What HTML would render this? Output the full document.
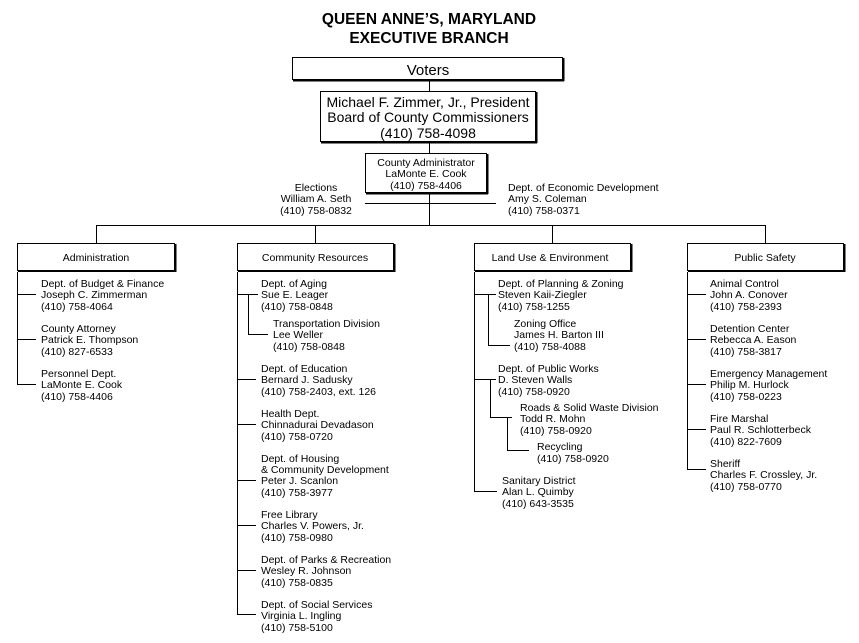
<!DOCTYPE html>
<html><head><style>
body{margin:0;background:#fff}
svg{display:block}
text{font-family:"Liberation Sans",Arial,sans-serif;fill:#000;font-size:10.5px}
text.big{font-size:14px}
</style></head><body>
<svg width="859" height="643" viewBox="0 0 859 643" xmlns="http://www.w3.org/2000/svg">
<g stroke="#000" fill="none" stroke-width="1">
<rect x="292.5" y="57.5" width="270" height="22" fill="#fff"/>
<line x1="563.5" y1="58" x2="563.5" y2="81" stroke-width="2"/><line x1="293" y1="80.5" x2="564" y2="80.5" stroke-width="2"/>
<rect x="320.5" y="91.5" width="215" height="50" fill="#fff"/>
<line x1="536.5" y1="92" x2="536.5" y2="143" stroke-width="2"/><line x1="321" y1="142.5" x2="537" y2="142.5" stroke-width="2"/>
<rect x="365.5" y="153.5" width="121" height="39" fill="#fff"/>
<line x1="487.5" y1="154" x2="487.5" y2="194" stroke-width="2"/><line x1="366" y1="193.5" x2="488" y2="193.5" stroke-width="2"/>
<line x1="429.5" y1="81" x2="429.5" y2="91"/>
<line x1="429.5" y1="143" x2="429.5" y2="153"/>
<line x1="429.5" y1="194" x2="429.5" y2="225"/>
<line x1="365" y1="203.5" x2="496" y2="203.5"/>
<line x1="96.5" y1="225.5" x2="765.5" y2="225.5"/>
<line x1="96.5" y1="225" x2="96.5" y2="243"/>
<line x1="315.5" y1="225" x2="315.5" y2="243"/>
<line x1="552.5" y1="225" x2="552.5" y2="243"/>
<line x1="765.5" y1="225" x2="765.5" y2="243"/>
<rect x="17.5" y="243.5" width="157" height="27" fill="#fff"/>
<line x1="175.5" y1="244" x2="175.5" y2="272" stroke-width="2"/><line x1="18" y1="271" x2="176" y2="271" stroke-width="2"/>
<rect x="237.5" y="243.5" width="156" height="27" fill="#fff"/>
<line x1="394.5" y1="244" x2="394.5" y2="272" stroke-width="2"/><line x1="238" y1="271" x2="395" y2="271" stroke-width="2"/>
<rect x="474.5" y="243.5" width="156" height="27" fill="#fff"/>
<line x1="631.5" y1="244" x2="631.5" y2="272" stroke-width="2"/><line x1="475" y1="271" x2="632" y2="271" stroke-width="2"/>
<rect x="687.5" y="243.5" width="156" height="27" fill="#fff"/>
<line x1="844.5" y1="244" x2="844.5" y2="272" stroke-width="2"/><line x1="688" y1="271" x2="845" y2="271" stroke-width="2"/>
<line x1="17.5" y1="272" x2="17.5" y2="384.5"/>
<line x1="17" y1="294.5" x2="36" y2="294.5"/>
<line x1="17" y1="339.5" x2="36" y2="339.5"/>
<line x1="17" y1="384.5" x2="36" y2="384.5"/>
<line x1="237.5" y1="272" x2="237.5" y2="614.5"/>
<line x1="237" y1="294.5" x2="258" y2="294.5"/>
<line x1="248.5" y1="294" x2="248.5" y2="334.5"/>
<line x1="248" y1="334.5" x2="268" y2="334.5"/>
<line x1="237" y1="379.5" x2="256" y2="379.5"/>
<line x1="237" y1="424.5" x2="256" y2="424.5"/>
<line x1="237" y1="480.5" x2="256" y2="480.5"/>
<line x1="237" y1="525.5" x2="256" y2="525.5"/>
<line x1="237" y1="570.5" x2="256" y2="570.5"/>
<line x1="237" y1="614.5" x2="256" y2="614.5"/>
<line x1="474.5" y1="272" x2="474.5" y2="491.5"/>
<line x1="474" y1="294.5" x2="496" y2="294.5"/>
<line x1="488.5" y1="294" x2="488.5" y2="345.5"/>
<line x1="488" y1="345.5" x2="510" y2="345.5"/>
<line x1="474" y1="379.5" x2="496" y2="379.5"/>
<line x1="490.5" y1="379" x2="490.5" y2="417.5"/>
<line x1="490" y1="417.5" x2="512" y2="417.5"/>
<line x1="507.5" y1="417" x2="507.5" y2="450.5"/>
<line x1="507" y1="450.5" x2="529" y2="450.5"/>
<line x1="474" y1="491.5" x2="497" y2="491.5"/>
<line x1="687.5" y1="272" x2="687.5" y2="469.5"/>
<line x1="687" y1="294.5" x2="706" y2="294.5"/>
<line x1="687" y1="339.5" x2="706" y2="339.5"/>
<line x1="687" y1="384.5" x2="706" y2="384.5"/>
<line x1="687" y1="429.5" x2="706" y2="429.5"/>
<line x1="687" y1="469.5" x2="706" y2="469.5"/>
</g>
<g>
<text x="429" y="24" text-anchor="middle" font-weight="bold" style="font-size:15.5px">QUEEN ANNE’S, MARYLAND</text>
<text x="429" y="43" text-anchor="middle" font-weight="bold" style="font-size:15.5px">EXECUTIVE BRANCH</text>
<text x="428" y="75" text-anchor="middle" style="font-size:15px">Voters</text>
<text class="big" x="428" y="107" text-anchor="middle">Michael F. Zimmer, Jr., President</text>
<text class="big" x="428" y="122" text-anchor="middle">Board of County Commissioners</text>
<text class="big" x="428" y="138" text-anchor="middle">(410) 758-4098</text>
<g text-anchor="middle">
<text x="426" y="166">County Administrator</text>
<text x="426" y="177">LaMonte E. Cook</text>
<text x="426" y="189">(410) 758-4406</text>
<text x="316" y="191">Elections</text>
<text x="316" y="202">William A. Seth</text>
<text x="316" y="214">(410) 758-0832</text>
<text x="96" y="261">Administration</text>
<text x="315" y="261">Community Resources</text>
<text x="550" y="261">Land Use &amp; Environment</text>
<text x="765" y="261">Public Safety</text>
</g>
<text x="508" y="191">Dept. of Economic Development</text>
<text x="508" y="202">Amy S. Coleman</text>
<text x="508" y="214">(410) 758-0371</text>
<g transform="translate(41,0)">
<text y="287">Dept. of Budget &amp; Finance</text><text y="298">Joseph C. Zimmerman</text><text y="310">(410) 758-4064</text>
<text y="332">County Attorney</text><text y="343">Patrick E. Thompson</text><text y="355">(410) 827-6533</text>
<text y="377">Personnel Dept.</text><text y="388">LaMonte E. Cook</text><text y="400">(410) 758-4406</text>
</g>
<g transform="translate(261,0)">
<text y="287">Dept. of Aging</text><text y="298">Sue E. Leager</text><text y="310">(410) 758-0848</text>
<text x="12" y="327">Transportation Division</text><text x="12" y="338">Lee Weller</text><text x="12" y="350">(410) 758-0848</text>
<text y="372">Dept. of Education</text><text y="383">Bernard J. Sadusky</text><text y="395">(410) 758-2403, ext. 126</text>
<text y="417">Health Dept.</text><text y="428">Chinnadurai Devadason</text><text y="440">(410) 758-0720</text>
<text y="462">Dept. of Housing</text><text y="473">&amp; Community Development</text><text y="484">Peter J. Scanlon</text><text y="496">(410) 758-3977</text>
<text y="518">Free Library</text><text y="529">Charles V. Powers, Jr.</text><text y="541">(410) 758-0980</text>
<text y="563">Dept. of Parks &amp; Recreation</text><text y="574">Wesley R. Johnson</text><text y="586">(410) 758-0835</text>
<text y="608">Dept. of Social Services</text><text y="619">Virginia L. Ingling</text><text y="631">(410) 758-5100</text>
</g>
<g>
<text x="498" y="287">Dept. of Planning &amp; Zoning</text><text x="498" y="298">Steven Kaii-Ziegler</text><text x="498" y="310">(410) 758-1255</text>
<text x="514" y="327">Zoning Office</text><text x="514" y="338">James H. Barton III</text><text x="514" y="350">(410) 758-4088</text>
<text x="498" y="372">Dept. of Public Works</text><text x="498" y="383">D. Steven Walls</text><text x="498" y="395">(410) 758-0920</text>
<text x="520" y="411">Roads &amp; Solid Waste Division</text><text x="520" y="422">Todd R. Mohn</text><text x="520" y="434">(410) 758-0920</text>
<text x="537" y="450">Recycling</text><text x="537" y="462">(410) 758-0920</text>
<text x="502" y="484">Sanitary District</text><text x="502" y="495">Alan L. Quimby</text><text x="502" y="507">(410) 643-3535</text>
</g>
<g transform="translate(710,0)">
<text y="287">Animal Control</text><text y="298">John A. Conover</text><text y="310">(410) 758-2393</text>
<text y="332">Detention Center</text><text y="343">Rebecca A. Eason</text><text y="355">(410) 758-3817</text>
<text y="377">Emergency Management</text><text y="388">Philip M. Hurlock</text><text y="400">(410) 758-0223</text>
<text y="422">Fire Marshal</text><text y="433">Paul R. Schlotterbeck</text><text y="445">(410) 822-7609</text>
<text y="467">Sheriff</text><text y="478">Charles F. Crossley, Jr.</text><text y="490">(410) 758-0770</text>
</g>
</g>
</svg>
</body></html>
